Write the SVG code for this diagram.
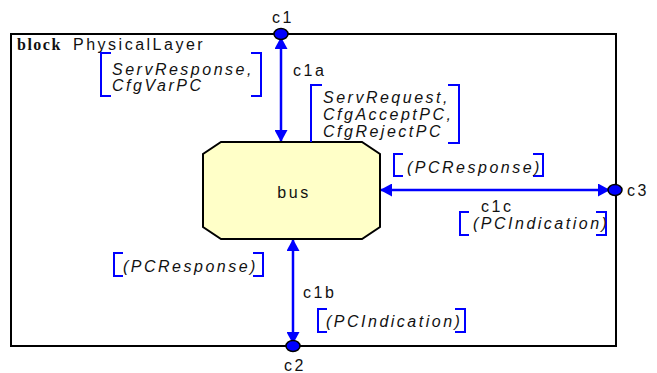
<svg xmlns="http://www.w3.org/2000/svg" width="657" height="373" viewBox="0 0 657 373">
  <style>
    .frame { fill: none; stroke: #000; stroke-width: 2; }
    .lbl { font-family: "Liberation Sans", Arial, sans-serif; font-size: 16px; letter-spacing: 2.5px; fill: #111; }
    .sig { font-family: "Liberation Sans", Arial, sans-serif; font-size: 16px; font-style: italic; letter-spacing: 2.5px; fill: #111; }
    .kw { font-family: "Liberation Serif", "Times New Roman", serif; font-size: 16px; font-weight: bold; letter-spacing: 1.5px; fill: #111; }
    .chan { fill: none; stroke: #0000ff; stroke-width: 2.5; marker-start: url(#arr); marker-end: url(#arr); }
    .brk { fill: none; stroke: #0000ff; stroke-width: 2; }
    .port { fill: #0000ff; stroke: #000; stroke-width: 1.5; }
    .blk { fill: #ffffc8; stroke: #000; stroke-width: 2; }
  </style>
  <defs>
    <marker id="arr" markerUnits="userSpaceOnUse" markerWidth="13" markerHeight="13" refX="12" refY="6.5" orient="auto-start-reverse">
      <path d="M0,0 L12,6.5 L0,13 z" fill="#0000ff"/>
    </marker>
  </defs>

  <!-- block frame -->
  <g id="frame">
    <rect class="frame" x="11" y="34" width="605" height="312"/>
    <text class="kw" x="17" y="50">block</text>
    <text class="lbl" x="73" y="50">PhysicalLayer</text>
  </g>

  <!-- channels -->
  <g id="connectors">
    <line class="chan" x1="281" y1="37" x2="281" y2="142"/>
    <line class="chan" x1="380" y1="190" x2="610" y2="190"/>
    <line class="chan" x1="293" y1="239" x2="293" y2="344"/>
  </g>

  <!-- process block -->
  <g id="bus">
    <polygon class="blk" points="221,142 362,142 380,154 380,227 362,239 221,239 203,227 203,154"/>
    <text class="lbl" x="294" y="198" text-anchor="middle">bus</text>
  </g>

  <!-- gates on the frame -->
  <g id="c1">
    <ellipse class="port" cx="281" cy="34" rx="7" ry="5.5"/>
    <text class="lbl" x="283" y="23" text-anchor="middle">c1</text>
  </g>
  <g id="c2">
    <ellipse class="port" cx="293" cy="346" rx="7" ry="5.5"/>
    <text class="lbl" x="295" y="371" text-anchor="middle">c2</text>
  </g>
  <g id="c3">
    <ellipse class="port" cx="615" cy="190" rx="7" ry="5.5"/>
    <text class="lbl" x="627" y="196">c3</text>
  </g>

  <!-- channel c1a -->
  <g id="c1a">
    <text class="lbl" x="293" y="76">c1a</text>
    <path class="brk" d="M111,53 H101 V96 H111 M251,53 H261 V96 H251"/>
    <text class="sig" x="112" y="75">ServResponse,</text>
    <text class="sig" x="112" y="91">CfgVarPC</text>
    <path class="brk" d="M322,85 H311 V142 M448,85 H459 V143 H448"/>
    <text class="sig" x="323" y="103">ServRequest,</text>
    <text class="sig" x="323" y="120">CfgAcceptPC,</text>
    <text class="sig" x="323" y="137">CfgRejectPC</text>
  </g>

  <!-- channel c1c -->
  <g id="c1c">
    <path class="brk" d="M403,154 H394 V176 H403 M533,154 H543 V176 H533"/>
    <text class="sig" x="407" y="173">(PCResponse)</text>
    <text class="lbl" x="481" y="212">c1c</text>
    <path class="brk" d="M469,212 H460 V235 H469 M596,212 H606 V235 H596"/>
    <text class="sig" x="473" y="229">(PCIndication)</text>
  </g>

  <!-- channel c1b -->
  <g id="c1b">
    <path class="brk" d="M123,253 H114 V276 H123 M253,253 H263 V276 H253"/>
    <text class="sig" x="123" y="272">(PCResponse)</text>
    <text class="lbl" x="303" y="298">c1b</text>
    <path class="brk" d="M327,309 H318 V332 H327 M455,309 H465 V332 H455"/>
    <text class="sig" x="326" y="327">(PCIndication)</text>
  </g>
</svg>
